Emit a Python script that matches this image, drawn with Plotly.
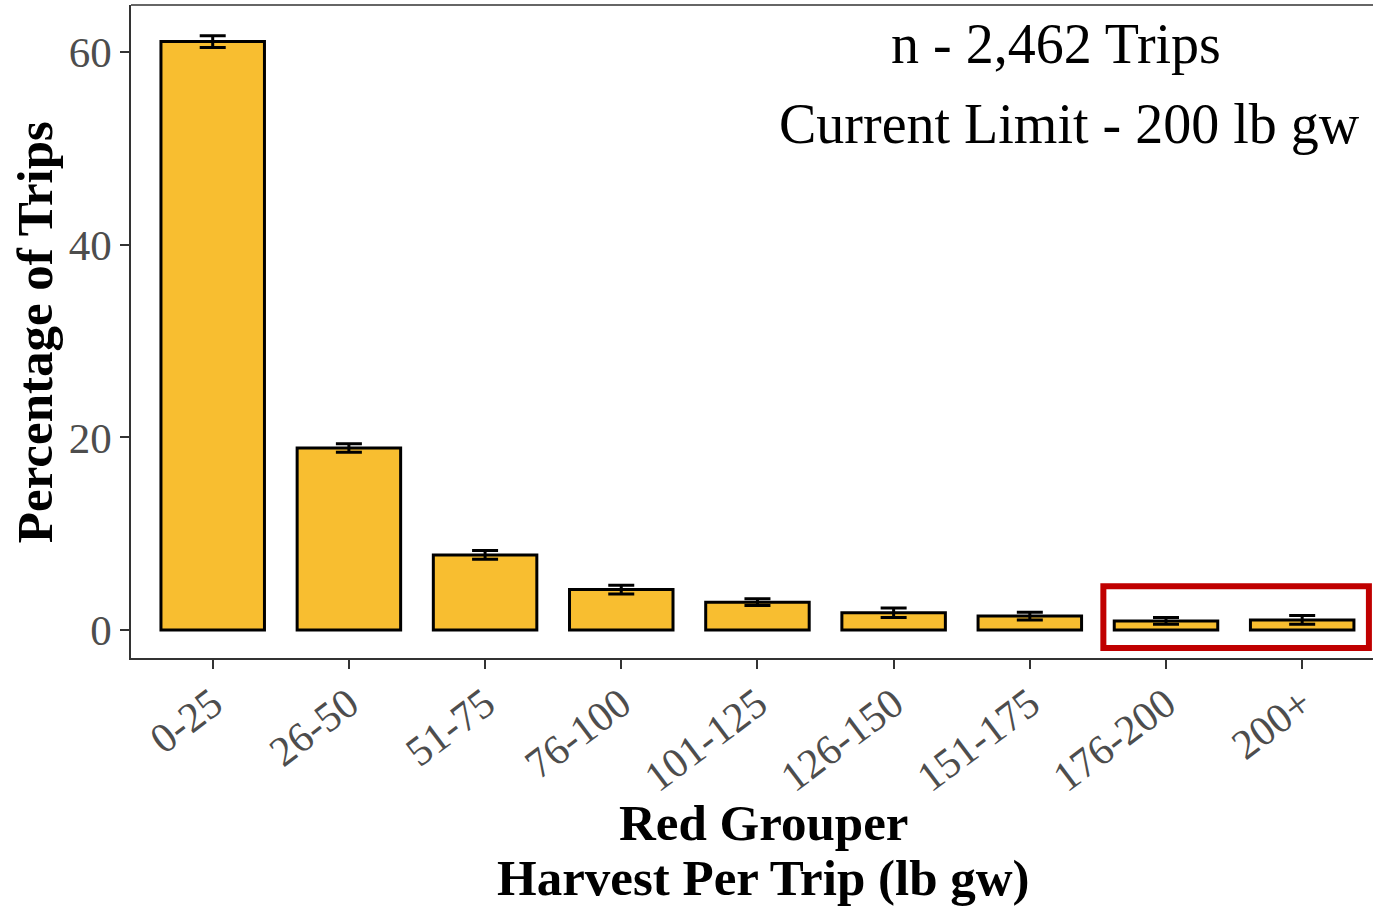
import plotly.graph_objects as go

categories = ["0-25", "26-50", "51-75", "76-100", "101-125", "126-150", "151-175", "176-200", "200+"]
percent = [61.1, 18.9, 7.8, 4.2, 2.9, 1.8, 1.45, 0.95, 1.05]
err = [0.6, 0.45, 0.45, 0.45, 0.35, 0.5, 0.4, 0.35, 0.45]
y_ticks = [0, 20, 40, 60]

FONT = "Liberation Serif"

fig = go.Figure()
fig.add_trace(go.Bar(
    x=list(range(len(categories))), y=percent,
    width=0.76,
    marker=dict(color="#F8BE30", line=dict(color="black", width=3)),
    error_y=dict(type="data", array=err, visible=True, color="black", thickness=3, width=13),
    showlegend=False,
))

fig.update_layout(
    width=1373, height=908,
    margin=dict(l=131, r=0, t=5, b=250),
    plot_bgcolor="white", paper_bgcolor="white",
    font=dict(family=FONT),
    xaxis=dict(
        range=[-0.6, 8.52],
        tickmode="array", tickvals=list(range(len(categories))), ticktext=categories,
        tickangle=-37,
        tickfont=dict(family=FONT, size=42, color="#4D4D4D"),
        ticks="outside", ticklen=9, tickwidth=2, tickcolor="#333333",
        ticklabelstandoff=-6,
        showline=True, linecolor="#333333", linewidth=1.5, mirror=False,
        showgrid=False, zeroline=False,
    ),
    yaxis=dict(
        range=[-2.9, 64.9],
        tickmode="array", tickvals=y_ticks,
        tickfont=dict(family=FONT, size=43, color="#4D4D4D"),
        ticks="outside", ticklen=9, tickwidth=2, tickcolor="#333333",
        ticklabelstandoff=0,
        showline=True, linecolor="#333333", linewidth=1.5, mirror=False,
        showgrid=False, zeroline=False,
    ),
)

# top panel border
fig.add_shape(type="line", xref="paper", yref="paper", x0=0, x1=1, y0=1, y1=1,
              line=dict(color="#333333", width=1.5))

# highlight box around the last two categories
fig.add_shape(type="rect", xref="x", yref="y", x0=6.54, x1=8.49, y0=-1.85, y1=4.55,
              line=dict(color="#C00000", width=6))

# in-panel labels
fig.add_annotation(xref="paper", yref="paper", x=0.745, y=0.940, xanchor="center", yanchor="middle",
                   text="n - 2,462 Trips", showarrow=False,
                   font=dict(family=FONT, size=56, color="black"))
fig.add_annotation(xref="paper", yref="paper", x=0.756, y=0.818, xanchor="center", yanchor="middle",
                   text="Current Limit - 200 lb gw", showarrow=False,
                   font=dict(family=FONT, size=56, color="black"))

# axis titles
fig.add_annotation(xref="paper", yref="paper", x=0.509, y=-0.2527, xanchor="center", yanchor="middle",
                   text="<b>Red Grouper</b>", showarrow=False,
                   font=dict(family=FONT, size=51, color="black"))
fig.add_annotation(xref="paper", yref="paper", x=0.509, y=-0.3369, xanchor="center", yanchor="middle",
                   text="<b>Harvest Per Trip (lb gw)</b>", showarrow=False,
                   font=dict(family=FONT, size=51, color="black"))
fig.add_annotation(xref="paper", yref="paper", x=-0.0773, y=0.499, xanchor="center", yanchor="middle",
                   text="<b>Percentage of Trips</b>", textangle=-90, showarrow=False,
                   font=dict(family=FONT, size=51, color="black"))

fig.write_html("out.html", config={"displayModeBar": False},
               post_script="document.body.style.margin='0px';document.body.style.overflow='hidden';")
